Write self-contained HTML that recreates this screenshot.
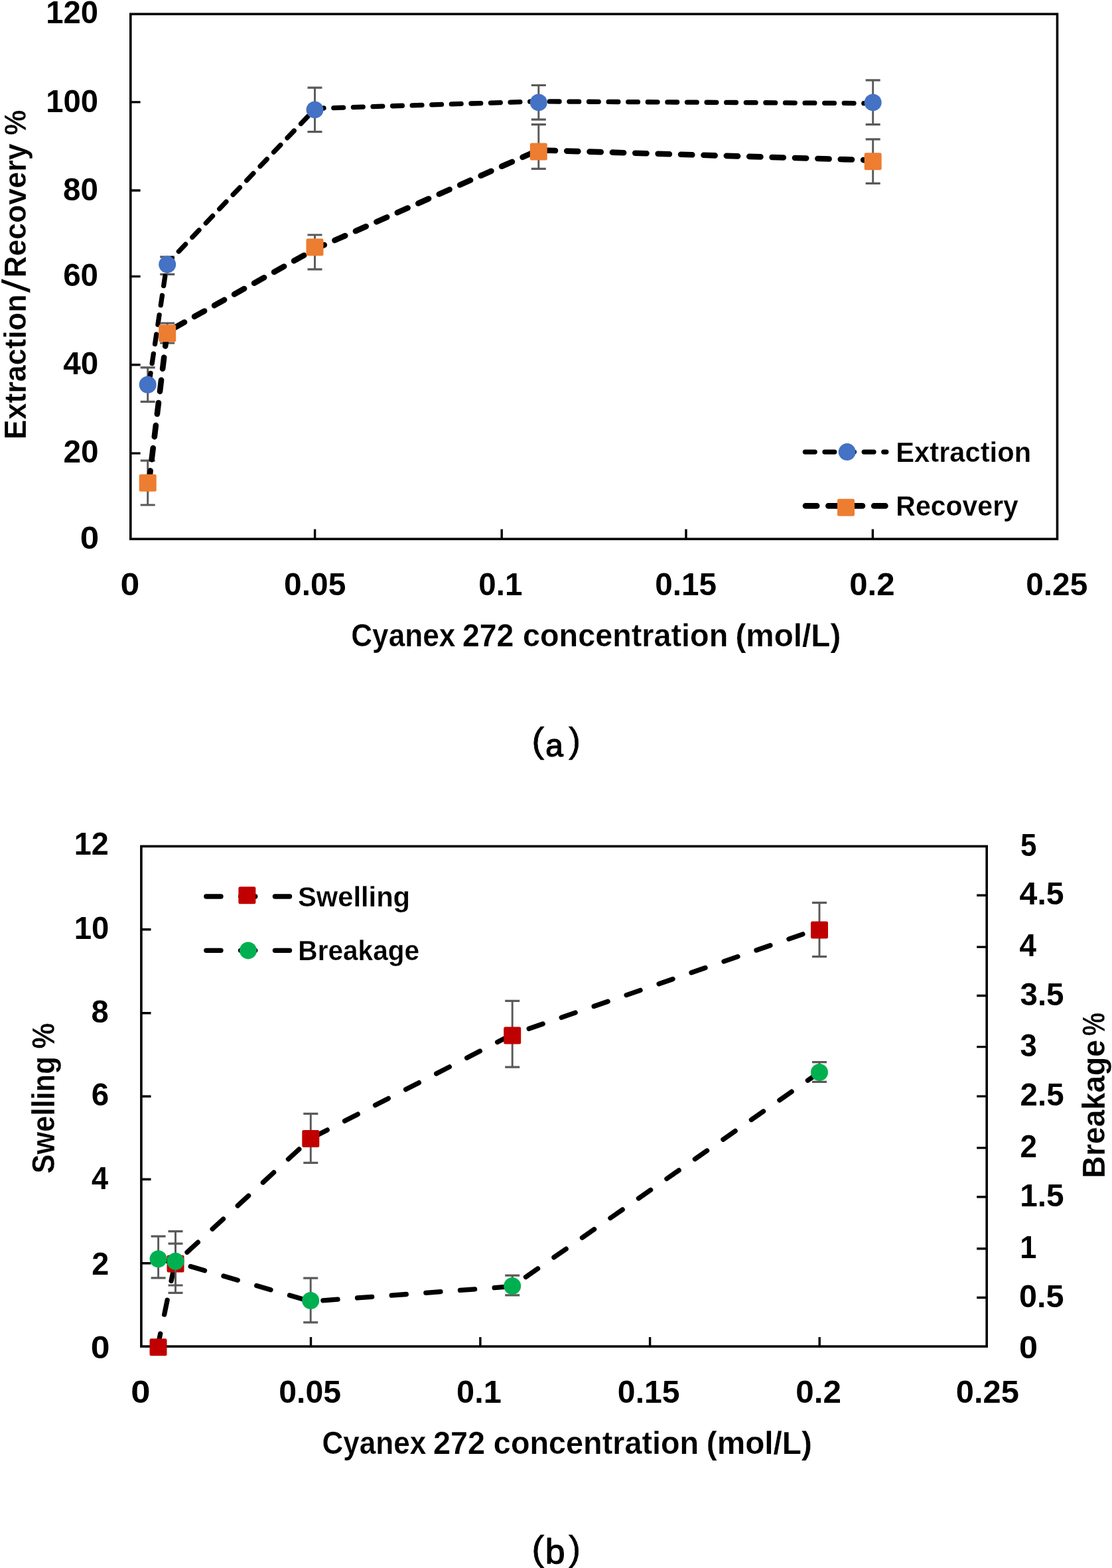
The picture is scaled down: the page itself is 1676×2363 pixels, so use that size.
<!DOCTYPE html>
<html lang="en">
<head>
<meta charset="utf-8">
<title>Effect of Cyanex 272 concentration</title>
<style>
html,body{margin:0;padding:0;background:#fff;}
body{width:1676px;height:2363px;overflow:hidden;}
svg{display:block;}
text{white-space:pre;}
</style>
</head>
<body>
<svg width="1676" height="2363" viewBox="0 0 1676 2363">
<rect width="1676" height="2363" fill="#fff"/>
<g id="chart-a">
<rect x="196.8" y="21.2" width="1396.7" height="791.1" fill="none" stroke="#000" stroke-width="3.6"/>
<path d="M196.8 153.9H211.6M196.8 287H211.6M196.8 416.6H211.6M196.8 549.8H211.6M196.8 683.1H211.6" fill="none" stroke="#000" stroke-width="3.4"/>
<path d="M474.6 812.3V797.6M756.2 812.3V797.6M1034 812.3V797.6M1315.4 812.3V797.6" fill="none" stroke="#000" stroke-width="3.4"/>
<path d="M222.7 553.9V605.4M252.2 387.2V413.4M474.5 132.1V198.6M811.8 128.5V180.2M1315.7 120.9V187.6" fill="none" stroke="#595959" stroke-width="2.9"/>
<path d="M211.7 553.9H233.7M211.7 605.4H233.7M241.2 387.2H263.2M241.2 413.4H263.2M463.5 132.1H485.5M463.5 198.6H485.5M800.8 128.5H822.8M800.8 180.2H822.8M1304.7 120.9H1326.7M1304.7 187.6H1326.7" fill="none" stroke="#595959" stroke-width="3.2"/>
<polyline points="224.5,579 251.6,397.5 475.5,163.4 811.5,152.8 1315,155.7" fill="none" stroke="#000" stroke-width="7.3" stroke-linecap="round" stroke-linejoin="round" stroke-dasharray="14.8 14.8" stroke-dashoffset="-2"/>
<circle cx="222.7" cy="579.7" r="13" fill="#4472C4"/>
<circle cx="252.2" cy="398.6" r="13" fill="#4472C4"/>
<circle cx="474.5" cy="165.4" r="13" fill="#4472C4"/>
<circle cx="811.8" cy="154.4" r="13" fill="#4472C4"/>
<circle cx="1315.7" cy="154.4" r="13" fill="#4472C4"/>
<path d="M222.7 694.1V761M252.2 487V517M474.5 354V405.9M811.8 187.6V254.4M1315.7 209.8V276.3" fill="none" stroke="#595959" stroke-width="2.9"/>
<path d="M211.7 694.1H233.7M211.7 761H233.7M241.2 487H263.2M241.2 517H263.2M463.5 354H485.5M463.5 405.9H485.5M800.8 187.6H822.8M800.8 254.4H822.8M1304.7 209.8H1326.7M1304.7 276.3H1326.7" fill="none" stroke="#595959" stroke-width="3.2"/>
<polyline points="224.5,727 251.8,500.2 475.5,375 811.5,226.3 1315,241.5" fill="none" stroke="#000" stroke-width="8.6" stroke-linecap="round" stroke-linejoin="round" stroke-dasharray="17.2 17.2" stroke-dashoffset="-0.5"/>
<rect x="209.7" y="714.8" width="26" height="26" rx="2.5" fill="#ED7D31"/>
<rect x="239.2" y="489.2" width="26" height="26" rx="2.5" fill="#ED7D31"/>
<rect x="461.5" y="359.4" width="26" height="26" rx="2.5" fill="#ED7D31"/>
<rect x="798.8" y="215.4" width="26" height="26" rx="2.5" fill="#ED7D31"/>
<rect x="1302.7" y="230.2" width="26" height="26" rx="2.5" fill="#ED7D31"/>
<polyline points="1213.4,681.1 1335.8,681.1" fill="none" stroke="#000" stroke-width="7.3" stroke-linecap="round" stroke-linejoin="round" stroke-dasharray="14.8 14.8" stroke-dashoffset="0"/>
<circle cx="1276.7" cy="681.1" r="13" fill="#4472C4"/>
<polyline points="1214,762.4 1335.5,762.4" fill="none" stroke="#000" stroke-width="8.6" stroke-linecap="round" stroke-linejoin="round" stroke-dasharray="17.2 17.2" stroke-dashoffset="0"/>
<rect x="1262" y="751.7" width="26" height="26" rx="2.5" fill="#ED7D31"/>
</g>
<g id="chart-b">
<rect x="212.9" y="1275.4" width="1274.3" height="753.7" fill="none" stroke="#000" stroke-width="3.6"/>
<path d="M212.9 1400.7H227.5M212.9 1526.8H227.5M212.9 1652.2H227.5M212.9 1777.2H227.5M212.9 1903.7H227.5" fill="none" stroke="#000" stroke-width="3.4"/>
<path d="M1472.2 1349.3H1487.2M1472.2 1427.1H1487.2M1472.2 1500.5H1487.2M1472.2 1577.6H1487.2M1472.2 1652.1H1487.2M1472.2 1729.9H1487.2M1472.2 1803.8H1487.2M1472.2 1881.8H1487.2M1472.2 1955.5H1487.2" fill="none" stroke="#000" stroke-width="3.4"/>
<path d="M468.5 2029.1V2015M723.9 2029.1V2015M979.6 2029.1V2015M1235.2 2029.1V2015" fill="none" stroke="#000" stroke-width="3.4"/>
<path d="M264.5 1874.2V1937M468.3 1678.3V1752.4M772.2 1508.3V1608.2M1235 1360.3V1441.6" fill="none" stroke="#595959" stroke-width="2.9"/>
<path d="M253.5 1874.2H275.5M253.5 1937H275.5M457.3 1678.3H479.3M457.3 1752.4H479.3M761.2 1508.3H783.2M761.2 1608.2H783.2M1224 1360.3H1246M1224 1441.6H1246" fill="none" stroke="#595959" stroke-width="3.2"/>
<polyline points="237.5,2030.3 263.5,1904.2 468.3,1715.8 772.2,1558.9 1235,1399.2" fill="none" stroke="#000" stroke-width="7.3" stroke-linecap="round" stroke-linejoin="round" stroke-dasharray="22.2 29.6" stroke-dashoffset="1.5"/>
<rect x="225.5" y="2017.3" width="26" height="26" rx="2.5" fill="#C00000"/>
<rect x="251.5" y="1891.4" width="26" height="26" rx="2.5" fill="#C00000"/>
<rect x="455.3" y="1703.1" width="26" height="26" rx="2.5" fill="#C00000"/>
<rect x="759.2" y="1547.4" width="26" height="26" rx="2.5" fill="#C00000"/>
<rect x="1222" y="1388.6" width="26" height="26" rx="2.5" fill="#C00000"/>
<path d="M238.6 1863.1V1925.9M264.5 1855.7V1948.3M468.2 1926.1V1992.9M772.2 1922.1V1951.9M1235 1600.6V1630.4" fill="none" stroke="#595959" stroke-width="2.9"/>
<path d="M227.6 1863.1H249.6M227.6 1925.9H249.6M253.5 1855.7H275.5M253.5 1948.3H275.5M457.2 1926.1H479.2M457.2 1992.9H479.2M761.2 1922.1H783.2M761.2 1951.9H783.2M1224 1600.6H1246M1224 1630.4H1246" fill="none" stroke="#595959" stroke-width="3.2"/>
<polyline points="238.6,1898.4 264.5,1902 468.2,1961.2 772.2,1938.6 1235,1616" fill="none" stroke="#000" stroke-width="7.3" stroke-linecap="round" stroke-linejoin="round" stroke-dasharray="22.2 29.6" stroke-dashoffset="2"/>
<circle cx="238.6" cy="1897.2" r="13" fill="#00B050"/>
<circle cx="264.5" cy="1900.7" r="13" fill="#00B050"/>
<circle cx="468.2" cy="1960" r="13" fill="#00B050"/>
<circle cx="772.2" cy="1938" r="13" fill="#00B050"/>
<circle cx="1235" cy="1616" r="13" fill="#00B050"/>
<polyline points="310.8,1351 437,1351" fill="none" stroke="#000" stroke-width="7.3" stroke-linecap="round" stroke-linejoin="round" stroke-dasharray="22.2 29.6" stroke-dashoffset="0"/>
<rect x="359.4" y="1336.3" width="26" height="26" rx="2.5" fill="#C00000"/>
<polyline points="310.8,1432.3 437,1432.3" fill="none" stroke="#000" stroke-width="7.3" stroke-linecap="round" stroke-linejoin="round" stroke-dasharray="22.2 29.6" stroke-dashoffset="0"/>
<circle cx="374" cy="1432.4" r="13" fill="#00B050"/>
</g>
<g font-family='"Liberation Sans", sans-serif' font-weight="bold" fill="#000">
<text x="69.16" y="34.82" font-size="48.6" textLength="78.86" lengthAdjust="spacingAndGlyphs">120</text>
<text x="69.26" y="168.72" font-size="48.6" textLength="78.86" lengthAdjust="spacingAndGlyphs">100</text>
<text x="95.07" y="301.52" font-size="48.6" textLength="53.01" lengthAdjust="spacingAndGlyphs">80</text>
<text x="95.13" y="430.92" font-size="48.6" textLength="52.94" lengthAdjust="spacingAndGlyphs">60</text>
<text x="95.29" y="564.22" font-size="48.6" textLength="52.99" lengthAdjust="spacingAndGlyphs">40</text>
<text x="95.57" y="696.72" font-size="48.6" textLength="53.12" lengthAdjust="spacingAndGlyphs">20</text>
<text x="120.85" y="826.52" font-size="48.6" textLength="28.45" lengthAdjust="spacingAndGlyphs">0</text>
<text x="181.63" y="897.11" font-size="48.88" textLength="28.8" lengthAdjust="spacingAndGlyphs">0</text>
<text x="428.09" y="897.11" font-size="48.88" textLength="93.18" lengthAdjust="spacingAndGlyphs">0.05</text>
<text x="721.3" y="897.11" font-size="48.88" textLength="66.1" lengthAdjust="spacingAndGlyphs">0.1</text>
<text x="987.29" y="897.11" font-size="48.88" textLength="92.76" lengthAdjust="spacingAndGlyphs">0.15</text>
<text x="1280.23" y="897.11" font-size="48.88" textLength="68.45" lengthAdjust="spacingAndGlyphs">0.2</text>
<text x="1546.29" y="897.11" font-size="48.88" textLength="92.97" lengthAdjust="spacingAndGlyphs">0.25</text>
<text font-size="42.75" stroke="#fff" stroke-width="0.25"><tspan x="1350.29" y="696.2" textLength="203.82" lengthAdjust="spacingAndGlyphs">Extraction</tspan></text>
<text font-size="42.75" stroke="#fff" stroke-width="0.25"><tspan x="1350.34" y="777.4" textLength="184.59" lengthAdjust="spacingAndGlyphs">Recovery</tspan></text>
<text font-size="47.83" stroke="#fff" stroke-width="0.25"><tspan x="529.23" y="973.6" textLength="157.1" lengthAdjust="spacingAndGlyphs">Cyanex</tspan> <tspan x="696.9" y="973.6" textLength="77.59" lengthAdjust="spacingAndGlyphs">272</tspan> <tspan x="788.06" y="973.6" textLength="309.2" lengthAdjust="spacingAndGlyphs">concentration</tspan> <tspan x="1108.42" y="973.6" textLength="158.85" lengthAdjust="spacingAndGlyphs">(mol/L)</tspan></text>
<text transform="translate(39 0) rotate(-90)" font-size="46.81" stroke="#fff" stroke-width="0.25"><tspan x="-662.21" y="0" textLength="218.7" lengthAdjust="spacingAndGlyphs">Extraction</tspan><tspan x="-441.5" y="5.5" font-size="59.92" font-weight="normal" textLength="21.34" lengthAdjust="spacingAndGlyphs">/</tspan><tspan x="-418.21" y="0" textLength="201.77" lengthAdjust="spacingAndGlyphs">Recovery</tspan> <tspan x="-203.87" y="0" textLength="37.9" lengthAdjust="spacingAndGlyphs">%</tspan></text>
<text x="111.69" y="1288.42" font-size="48.6" textLength="52.06" lengthAdjust="spacingAndGlyphs">12</text>
<text x="111.66" y="1414.72" font-size="48.6" textLength="52.71" lengthAdjust="spacingAndGlyphs">10</text>
<text x="137.58" y="1540.62" font-size="48.6" textLength="26.29" lengthAdjust="spacingAndGlyphs">8</text>
<text x="137.63" y="1665.92" font-size="48.6" textLength="26.49" lengthAdjust="spacingAndGlyphs">6</text>
<text x="138.12" y="1791.82" font-size="48.6" textLength="25.13" lengthAdjust="spacingAndGlyphs">4</text>
<text x="138.3" y="1920.72" font-size="48.6" textLength="25.99" lengthAdjust="spacingAndGlyphs">2</text>
<text x="136.73" y="2046.72" font-size="48.6" textLength="28.8" lengthAdjust="spacingAndGlyphs">0</text>
<text x="1537.88" y="1289.72" font-size="48.6" textLength="24.47" lengthAdjust="spacingAndGlyphs">5</text>
<text x="1536.58" y="1363.32" font-size="48.6" textLength="67.04" lengthAdjust="spacingAndGlyphs">4.5</text>
<text x="1536.61" y="1440.52" font-size="48.6" textLength="25.44" lengthAdjust="spacingAndGlyphs">4</text>
<text x="1537.41" y="1515.22" font-size="48.6" textLength="66.19" lengthAdjust="spacingAndGlyphs">3.5</text>
<text x="1537.46" y="1592.42" font-size="48.6" textLength="25.39" lengthAdjust="spacingAndGlyphs">3</text>
<text x="1537.58" y="1666.22" font-size="48.6" textLength="66.02" lengthAdjust="spacingAndGlyphs">2.5</text>
<text x="1537.62" y="1743.92" font-size="48.6" textLength="25.54" lengthAdjust="spacingAndGlyphs">2</text>
<text x="1537.13" y="1818.22" font-size="48.6" textLength="66.47" lengthAdjust="spacingAndGlyphs">1.5</text>
<text x="1537.29" y="1895.92" font-size="48.6" textLength="25.09" lengthAdjust="spacingAndGlyphs">1</text>
<text x="1536.06" y="1970.02" font-size="48.6" textLength="67.57" lengthAdjust="spacingAndGlyphs">0.5</text>
<text x="1535.98" y="2047.22" font-size="48.6" textLength="28.1" lengthAdjust="spacingAndGlyphs">0</text>
<text x="197.29" y="2113.61" font-size="48.88" textLength="29.27" lengthAdjust="spacingAndGlyphs">0</text>
<text x="420.27" y="2113.61" font-size="48.88" textLength="93.8" lengthAdjust="spacingAndGlyphs">0.05</text>
<text x="688.05" y="2113.61" font-size="48.88" textLength="67.78" lengthAdjust="spacingAndGlyphs">0.1</text>
<text x="930.87" y="2113.61" font-size="48.88" textLength="93.69" lengthAdjust="spacingAndGlyphs">0.15</text>
<text x="1199.32" y="2113.61" font-size="48.88" textLength="68.66" lengthAdjust="spacingAndGlyphs">0.2</text>
<text x="1440.74" y="2113.61" font-size="48.88" textLength="95.14" lengthAdjust="spacingAndGlyphs">0.25</text>
<text font-size="43.04" stroke="#fff" stroke-width="0.25"><tspan x="449.05" y="1366" textLength="169.01" lengthAdjust="spacingAndGlyphs">Swelling</tspan></text>
<text font-size="43.04" stroke="#fff" stroke-width="0.25"><tspan x="449.36" y="1447" textLength="182.78" lengthAdjust="spacingAndGlyphs">Breakage</tspan></text>
<text font-size="47.83" stroke="#fff" stroke-width="0.25"><tspan x="485.44" y="2191.4" textLength="156.7" lengthAdjust="spacingAndGlyphs">Cyanex</tspan> <tspan x="653" y="2191.4" textLength="78.11" lengthAdjust="spacingAndGlyphs">272</tspan> <tspan x="743.86" y="2191.4" textLength="309.3" lengthAdjust="spacingAndGlyphs">concentration</tspan> <tspan x="1064.81" y="2191.4" textLength="159.06" lengthAdjust="spacingAndGlyphs">(mol/L)</tspan></text>
<text transform="translate(82 0) rotate(-90)" font-size="47.83" stroke="#fff" stroke-width="0.25"><tspan x="-1768.5" y="0" textLength="176.18" lengthAdjust="spacingAndGlyphs">Swelling</tspan> <tspan x="-1580.59" y="0" textLength="38.85" lengthAdjust="spacingAndGlyphs">%</tspan></text>
<text transform="translate(1664.8 0) rotate(-90)" font-size="47.83" stroke="#fff" stroke-width="0.25"><tspan x="-1775.51" y="0" textLength="208.64" lengthAdjust="spacingAndGlyphs">Breakage</tspan><tspan x="-1561.08" y="0" textLength="34.93" lengthAdjust="spacingAndGlyphs">%</tspan></text>
</g>
<text font-family='"Liberation Sans", sans-serif' font-weight="normal" fill="#000" stroke="#000" stroke-linejoin="round"><tspan x="801.19" y="1133.64" font-size="54.33" textLength="19.23" lengthAdjust="spacingAndGlyphs" stroke-width="0.7">(</tspan><tspan x="822.23" y="1139.76" font-size="48.55" textLength="26.63" lengthAdjust="spacingAndGlyphs" stroke-width="1.3">a</tspan><tspan x="857.08" y="1133.64" font-size="54.33" textLength="18.01" lengthAdjust="spacingAndGlyphs" stroke-width="0.7">)</tspan></text>
<text font-family='"Liberation Sans", sans-serif' font-weight="normal" fill="#000" stroke="#000" stroke-linejoin="round"><tspan x="801.19" y="2351.84" font-size="54.33" textLength="19.23" lengthAdjust="spacingAndGlyphs" stroke-width="0.7">(</tspan><tspan x="821.67" y="2356.23" font-size="52.24" textLength="29.79" lengthAdjust="spacingAndGlyphs" stroke-width="1.3">b</tspan><tspan x="857.08" y="2351.84" font-size="54.33" textLength="18.01" lengthAdjust="spacingAndGlyphs" stroke-width="0.7">)</tspan></text>
</svg>
</body>
</html>
